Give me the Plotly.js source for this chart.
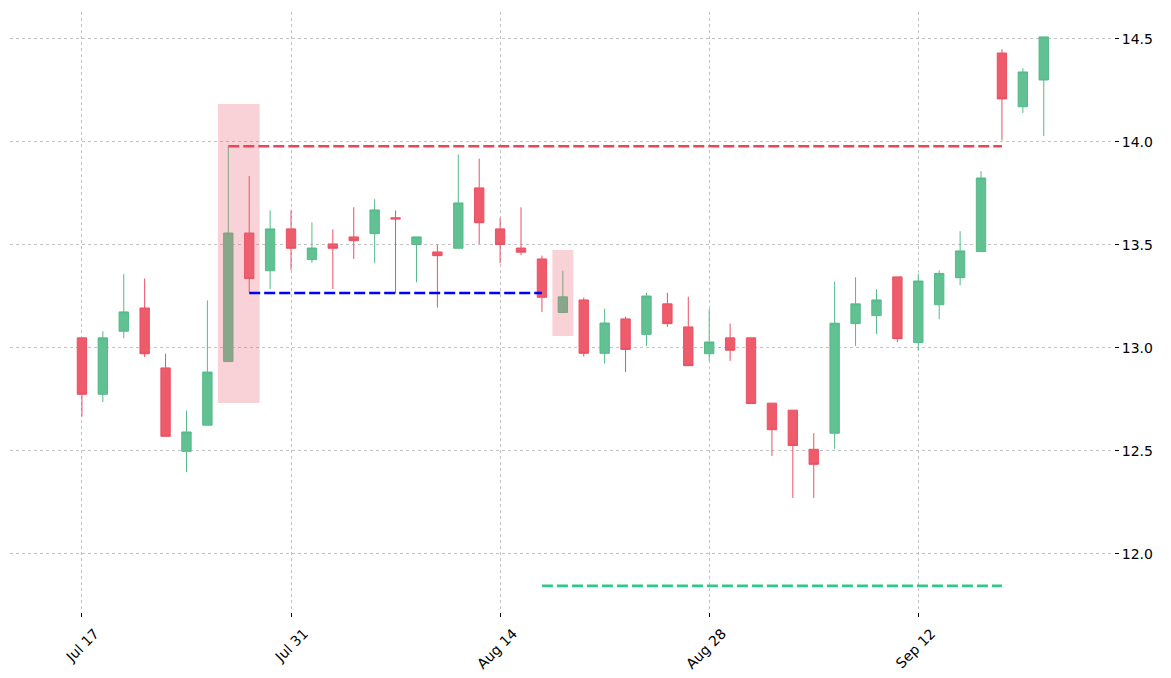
<!DOCTYPE html>
<html>
<head>
<meta charset="utf-8">
<script src="https://cdn.plot.ly/plotly-3.0.1.min.js"></script>
<style>
html,body{margin:0;padding:0;background:#fff;}
#chart{width:1171px;height:678px;}
</style>
</head>
<body>
<div id="chart"></div>
<script>
// Trading days (2023)
const dates = [
  "2023-07-17","2023-07-18","2023-07-19","2023-07-20","2023-07-21",
  "2023-07-24","2023-07-25","2023-07-26","2023-07-27","2023-07-28",
  "2023-07-31","2023-08-01","2023-08-02","2023-08-03","2023-08-04",
  "2023-08-07","2023-08-08","2023-08-09","2023-08-10","2023-08-11",
  "2023-08-14","2023-08-15","2023-08-16","2023-08-17","2023-08-18",
  "2023-08-21","2023-08-22","2023-08-23","2023-08-24","2023-08-25",
  "2023-08-28","2023-08-29","2023-08-30","2023-08-31","2023-09-01",
  "2023-09-05","2023-09-06","2023-09-07","2023-09-08",
  "2023-09-11","2023-09-12","2023-09-13","2023-09-14","2023-09-15",
  "2023-09-18","2023-09-19","2023-09-20"
];
const openP = [
  13.049,12.775,13.081,13.194,12.903,
  12.498,12.625,12.934,13.558,13.375,
  13.578,13.429,13.505,13.539,13.555,
  13.632,13.502,13.466,13.484,13.777,
  13.578,13.485,13.432,13.172,13.233,
  12.974,13.141,13.066,13.214,13.102,
  12.972,13.049,13.049,12.732,12.698,
  12.508,12.586,13.118,13.157,
  13.345,13.026,13.210,13.341,13.468,
  14.432,14.171,14.301
];
const highP = [
  13.050,13.081,13.358,13.337,12.972,
  12.696,13.231,13.977,13.835,13.668,
  13.668,13.610,13.576,13.683,13.722,
  13.668,13.539,13.502,13.940,13.919,
  13.630,13.683,13.448,13.375,13.245,
  13.191,13.152,13.268,13.268,13.249,
  13.189,13.118,13.049,12.732,12.698,
  12.586,13.322,13.343,13.285,
  13.345,13.359,13.377,13.567,13.858,
  14.450,14.358,14.510
];
const lowP = [
  12.667,12.738,13.047,12.956,12.571,
  12.398,12.625,12.934,13.270,13.286,
  13.379,13.413,13.286,13.432,13.411,
  13.265,13.319,13.196,13.484,13.505,
  13.411,13.451,13.175,13.172,12.958,
  12.924,12.883,13.010,13.102,12.914,
  12.938,12.937,12.730,12.476,12.272,
  12.272,12.510,13.010,13.068,
  13.029,12.989,13.139,13.304,13.468,
  14.008,14.141,14.028
];
const closeP = [
  12.775,13.049,13.175,12.972,12.571,
  12.592,12.883,13.558,13.337,13.578,
  13.484,13.485,13.484,13.521,13.670,
  13.626,13.539,13.448,13.704,13.608,
  13.502,13.465,13.246,13.248,12.974,
  13.121,12.993,13.252,13.118,12.914,
  13.029,12.989,12.730,12.603,12.526,
  12.435,13.120,13.214,13.233,
  13.045,13.325,13.362,13.471,13.825,
  14.209,14.340,14.510
];

// Axis ticks
const tickDates = ["2023-07-17","2023-07-31","2023-08-14","2023-08-28","2023-09-12"];
const tickLabels = ["Jul 17","Jul 31","Aug 14","Aug 28","Sep 12"];
const yTicks = [12.0,12.5,13.0,13.5,14.0,14.5];

// Highlight boxes (start date, end date, low, high)
const boxStart = ["2023-07-26","2023-08-17"];
const boxEnd   = ["2023-07-27","2023-08-17"];
const boxLow   = [12.733,13.058];
const boxHigh  = [14.184,13.476];

// Horizontal levels (start date, end date, level, colour)
const levelStart = ["2023-07-26","2023-07-27","2023-08-16"];
const levelEnd   = ["2023-09-18","2023-08-16","2023-09-18"];
const levelValue = [13.979,13.267,11.845];
const levelColor = ["#e8475a","#0000ff","#2ec98a"];

const idx = d => dates.indexOf(d);

const shapes = [];
for (let i = 0; i < boxStart.length; i++) {
  shapes.push({
    type:"rect", xref:"x", yref:"y",
    x0: idx(boxStart[i]) - 0.5, x1: idx(boxEnd[i]) + 0.5,
    y0: boxLow[i], y1: boxHigh[i],
    fillcolor:"rgba(232,106,124,0.30)", line:{width:0}, layer:"above"
  });
}
for (let i = 0; i < levelStart.length; i++) {
  shapes.push({
    type:"line", xref:"x", yref:"y",
    x0: idx(levelStart[i]), x1: idx(levelEnd[i]),
    y0: levelValue[i], y1: levelValue[i],
    line:{color: levelColor[i], width:2.6, dash:"11px,4px"}, layer:"above"
  });
}

const trace = {
  type:"candlestick",
  x: dates, open: openP, high: highP, low: lowP, close: closeP,
  increasing:{line:{color:"#55ba89", width:1}, fillcolor:"#61c192"},
  decreasing:{line:{color:"#ea5064", width:1}, fillcolor:"#ee5c6c"},
  whiskerwidth:0,
  showlegend:false, hoverinfo:"x+y"
};

const layout = {
  width:1171, height:678,
  margin:{l:10, r:57, t:12, b:66},
  paper_bgcolor:"#fff", plot_bgcolor:"#fff",
  boxgap:0.36,
  showlegend:false,
  font:{family:"DejaVu Sans", size:14, color:"#000"},
  xaxis:{
    type:"category",
    range:[-3.44, 49.36],
    rangeslider:{visible:false},
    tickmode:"array", tickvals: tickDates, ticktext: tickLabels,
    tickangle:-45,
    ticklabelshift:13,
    ticklabelstandoff:3,
    ticks:"outside", ticklen:4, tickwidth:1, tickcolor:"#000",
    showgrid:true, gridcolor:"#b3b3b3", griddash:"dot", gridwidth:0.8,
    showline:false, zeroline:false,
    tickfont:{family:"DejaVu Sans", size:14, color:"#000"}
  },
  yaxis:{
    side:"right",
    range:[11.718, 14.631],
    tickmode:"array", tickvals: yTicks, ticktext: yTicks.map(v=>v.toFixed(1)),
    ticks:"outside", ticklen:4, tickwidth:1, tickcolor:"#000",
    showgrid:true, gridcolor:"#b3b3b3", griddash:"dot", gridwidth:0.8,
    showline:false, zeroline:false,
    tickfont:{family:"DejaVu Sans", size:14, color:"#000"}
  },
  shapes: shapes
};

Plotly.newPlot("chart", [trace], layout, {displayModeBar:false, staticPlot:true});
</script>
</body>
</html>
